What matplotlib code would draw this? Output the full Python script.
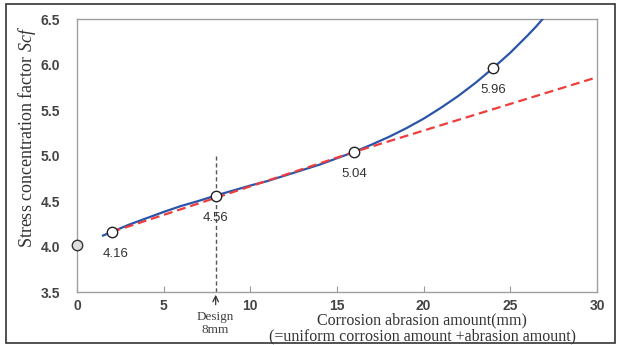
import matplotlib.pyplot as plt
from matplotlib.patches import Rectangle

plt.rcParams["mathtext.fontset"] = "custom"
plt.rcParams["mathtext.it"] = "Liberation Serif:italic"
plt.rcParams["mathtext.rm"] = "Liberation Serif"

# fitted Scf curve
curve_x = [1.5, 2, 3, 4, 5, 6, 7, 8, 9, 10, 11, 12, 13, 14, 15, 16, 17, 18, 19, 20,
           21, 22, 23, 24, 25, 26, 26.5, 27]
curve_y = [4.12, 4.16, 4.24, 4.31, 4.38, 4.445, 4.50, 4.56, 4.615, 4.67, 4.72, 4.78, 4.84,
           4.90, 4.97, 5.04, 5.12, 5.205, 5.30, 5.405, 5.525, 5.655, 5.80, 5.96, 6.13, 6.32,
           6.42, 6.53]

# linear trend (red dashed)
trend_x = [2, 8, 16, 30]
trend_y = [4.16, 4.535, 5.04, 5.86]

# analysed cases
pt_x = [2, 8, 16, 24]
pt_y = [4.16, 4.56, 5.04, 5.96]
pt_labels = ["4.16", "4.56", "5.04", "5.96"]
label_dx = [3, 0, 0, 0]

# new (uncorroded) condition
new_x = [0]
new_y = [4.02]

design_x = 8
design_top = 5.0

fig = plt.figure(figsize=(6.17, 3.45), dpi=100)
ax = fig.add_axes([0.1248, 0.1536, 0.8428, 0.7913])

ax.plot(curve_x, curve_y, color="#2b55a8", lw=1.6, zorder=3)
ax.plot(trend_x, trend_y, color="#ee3d3d", lw=1.6, ls=(0, (4, 2.2)), zorder=4)
ax.plot([design_x, design_x], [3.5, design_top], color="#555555", lw=1.0, ls=(0, (3, 2)), zorder=2)

ax.plot(pt_x, pt_y, "o", ms=7.5, mfc="white", mec="#222222", mew=1.0, zorder=5)
ax.plot(new_x, new_y, "o", ms=7.5, mfc="#dddddd", mec="#333333", mew=1.0, zorder=5, clip_on=False)

for x, y, s, dx in zip(pt_x, pt_y, pt_labels, label_dx):
    ax.annotate(s, (x, y), xytext=(dx, -16), textcoords="offset points",
                ha="center", va="center", fontsize=9.5, color="#333333",
                family="Liberation Sans")

ax.set_xlim(0, 30)
ax.set_ylim(3.5, 6.5)
ax.set_xticks([0, 5, 10, 15, 20, 25, 30])
ax.set_yticks([3.5, 4.0, 4.5, 5.0, 5.5, 6.0, 6.5])
ax.set_yticklabels(["3.5", "4.0", "4.5", "5.0", "5.5", "6.0", "6.5"])
ax.tick_params(axis="x", direction="in", length=4, color="#999999", pad=5)
ax.tick_params(axis="y", length=0, pad=12)
for lab in ax.get_xticklabels() + ax.get_yticklabels():
    lab.set_fontsize(10)
    lab.set_fontweight("bold")
    lab.set_color("#444444")
    lab.set_family("Liberation Sans")
for sp in ax.spines.values():
    sp.set_color("#a0a0a0")
    sp.set_linewidth(1.0)

# design marker under the axis
ax.annotate("", xy=(design_x, 3.5), xytext=(design_x, 3.33),
            arrowprops=dict(arrowstyle="->", color="#333333", lw=0.9),
            annotation_clip=False)
ax.text(design_x, 3.29, "Design\n8mm", ha="center", va="top", fontsize=9.5,
        color="#444444", family="Liberation Serif", linespacing=1.05)

fig.text(0.684, 0.070, "Corrosion abrasion amount(mm)", ha="center", va="center",
         fontsize=11.5, color="#333333", family="Liberation Serif")
fig.text(0.684, 0.026, "(=uniform corrosion amount +abrasion amount)", ha="center", va="center",
         fontsize=11.5, color="#333333", family="Liberation Serif")
fig.text(0.044, 0.603, "Stress concentration factor $\\mathit{Scf}$", rotation=90,
         ha="center", va="center", fontsize=13, color="#333333", family="Liberation Serif")

fig.patches.append(Rectangle((0.0105, 0.006), 0.986, 0.981, transform=fig.transFigure,
                             fill=False, edgecolor="#333333", lw=1.2))

plt.savefig("out.png", dpi=100)
